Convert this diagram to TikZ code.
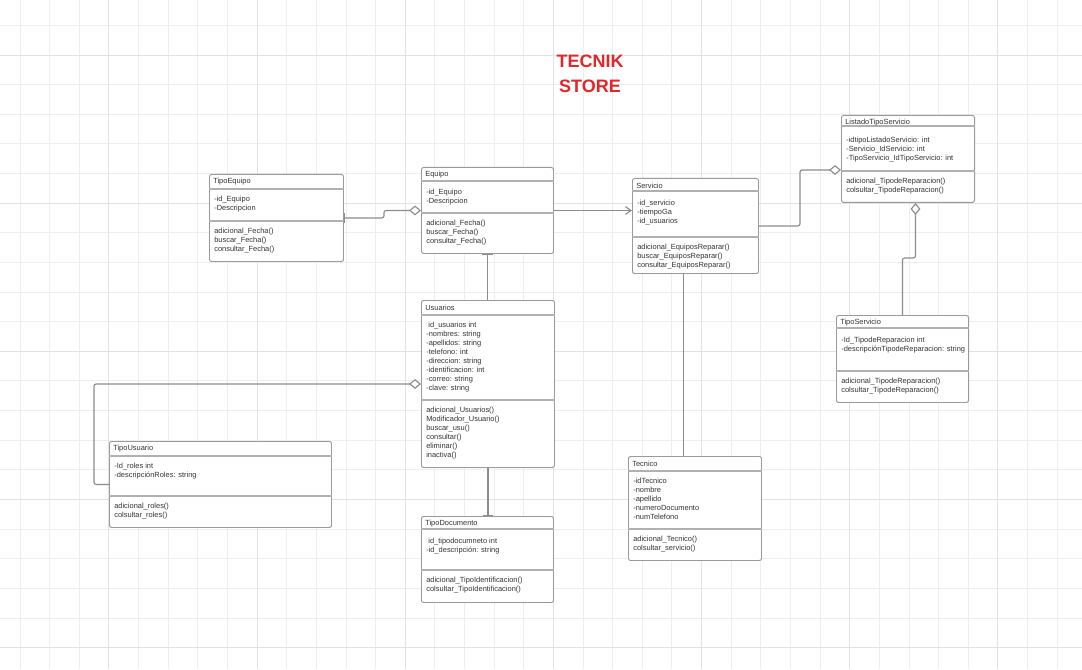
\documentclass[tikz,border=0pt]{standalone}
\usepackage{fontspec}
\setmainfont{Liberation Sans}
\usetikzlibrary{arrows.meta,calc}

\definecolor{gridlight}{HTML}{EEEEEE}
\definecolor{griddark}{HTML}{E2E2E2}
\definecolor{boxgray}{HTML}{9A9A9A}
\definecolor{rulegray}{HTML}{B0B0B0}
\definecolor{linegray}{HTML}{8C8C8C}
\definecolor{textgray}{HTML}{333333}
\definecolor{storered}{HTML}{E3262A}

\newlength\px
\setlength\px{0.025cm}

% one UML class: name, top left corner, width, height, header, separator, title, attributes, operations
\newcommand{\umlclass}[9]{%
  \node[classbox, minimum width=#3*\px, minimum height=#4*\px] (#1) at (#2) {};
  \draw[classrule] ([yshift=-#5*\px]#1.north west) -- ([yshift=-#5*\px]#1.north east);
  \draw[classrule] ([yshift=-#6*\px]#1.north west) -- ([yshift=-#6*\px]#1.north east);
  \node[classtext, anchor=west] (#1-name) at ([xshift=4*\px, yshift=-7.5*\px]#1.north west) {#7};
  \node[classtext] (#1-attr) at ([xshift=5*\px, yshift=-22*\px]#1.north west) {#8};
  \node[classtext] (#1-ops) at ([xshift=5*\px, yshift=-(#6+7)*\px]#1.north west) {#9};
}

\tikzset{
  umldiamond/.tip={Diamond[fill=white,length=8.5pt,width=7pt]},
  umlbar/.tip={Bar[width=7.5pt]},
  umlopen/.tip={Straight Barb[length=4pt,width=5.5pt]},
}

\begin{document}
\begin{tikzpicture}[x=0.025cm,y=-0.025cm,
    gridline/.style={draw=gridlight,line width=0.7pt},
    gridmajor/.style={draw=griddark,line width=0.7pt},
    classbox/.style={draw=boxgray,fill=white,line width=0.7pt,rounded corners=1.5pt,anchor=north west,inner sep=0pt},
    classrule/.style={draw=rulegray,line width=1.1pt},
    classtext/.style={anchor=north west,inner sep=0pt,align=left,text=textgray,font=\fontsize{5.3}{6.4}\selectfont},
    assoc/.style={draw=linegray,line width=0.8pt,rounded corners=1.5pt},
    storetitle/.style={align=center,text=storered,font=\fontsize{12.8}{17.8}\selectfont\bfseries}]
  \fill[white] (0,0) rectangle (1082,669);
  \useasboundingbox (0,0) rectangle (1082,669);
  % grid
  \foreach \k in {0,...,35}
    \draw[gridline] ({20.1+29.63*\k},0) -- ++(0,669);
  \foreach \k in {0,...,21}
    \draw[gridline] (0,{25.4+29.63*\k}) -- ++(1082,0);
  \foreach \k in {3,8,...,33}
    \draw[gridmajor] ({20.1+29.63*\k},0) -- ++(0,669);
  \foreach \k in {1,6,...,21}
    \draw[gridmajor] (0,{25.4+29.63*\k}) -- ++(1082,0);

  \node[storetitle] (store) at (590,74) {TECNIK\\STORE};

  \umlclass{tipoequipo}{209,174}{134}{87}{15}{47}{TipoEquipo}
    {-id\_Equipo\\-Descripcion}
    {adicional\_Fecha()\\buscar\_Fecha()\\consultar\_Fecha()}
  \umlclass{equipo}{421,167}{132}{86}{14}{46}{Equipo}
    {-id\_Equipo\\-Descripcion}
    {adicional\_Fecha()\\buscar\_Fecha()\\consultar\_Fecha()}
  \umlclass{servicio}{632,178}{126}{95}{13}{59}{Servicio}
    {-id\_servicio\\-tiempoGa\\-id\_usuarios}
    {adicional\_EquiposReparar()\\buscar\_EquiposReparar()\\consultar\_EquiposReparar()}
  \umlclass{listado}{841,115}{133}{87}{11}{56}{ListadoTipoServicio}
    {-idtipoListadoServicio: int\\-Servicio\_IdServicio: int\\-TipoServicio\_IdTipoServicio: int}
    {adicional\_TipodeReparacion()\\colsultar\_TipodeReparacion()}
  \umlclass{tiposervicio}{836,315}{132}{87}{13}{56}{TipoServicio}
    {-Id\_TipodeReparacion int\\-descripciónTipodeReparacion: string}
    {adicional\_TipodeReparacion()\\colsultar\_TipodeReparacion()}
  \umlclass{usuarios}{421,300}{133}{167}{15}{100}{Usuarios}
    {\ id\_usuarios int\\-nombres: string\\-apellidos: string\\-telefono: int\\-direccion: string\\-identificacion: int\\-correo: string\\-clave: string}
    {adicional\_Usuarios()\\Modificador\_Usuario()\\buscar\_usu()\\consultar()\\eliminar()\\inactiva()}
  \umlclass{tipousuario}{109,441}{222}{86}{15}{55}{TipoUsuario}
    {-Id\_roles int\\-descripciónRoles: string}
    {adicional\_roles()\\colsultar\_roles()}
  \umlclass{tipodoc}{421,516}{132}{86}{13}{54}{TipoDocumento}
    {\ id\_tipodocumneto int\\-id\_descripción: string}
    {adicional\_TipoIdentificacion()\\colsultar\_TipoIdentificacion()}
  \umlclass{tecnico}{628,456}{133}{104}{15}{73}{Tecnico}
    {-idTecnico\\-nombre\\-apellido\\-numeroDocumento\\-numTelefono}
    {adicional\_Tecnico()\\colsultar\_servicio()}

  % relations
  \draw[assoc, umlbar-umldiamond] (tipoequipo.east) -- ++(40,0) |- (equipo.west);
  \draw[assoc, -umlopen] (equipo.east) -- (equipo.east -| servicio.west);
  \draw[assoc, -umldiamond] (servicio.east) -- ++(41,0) |- ($(listado.north west)+(0,55)$);
  \draw[assoc, -umldiamond] (tiposervicio.north) -- ++(0,-57) -| ([xshift=7.5*\px]listado.south);
  \draw[assoc, umlbar-] (equipo.south) -- (equipo.south |- usuarios.north);
  \draw[assoc, -umlbar] (usuarios.south) -- (usuarios.south |- tipodoc.north);
  \draw[assoc, -umldiamond] (tipousuario.west) -- ++(-15,0) |- (usuarios.west);
  \draw[assoc] ([xshift=-12*\px]servicio.south) -- ([xshift=-12*\px]servicio.south |- tecnico.north);
\end{tikzpicture}
\end{document}
